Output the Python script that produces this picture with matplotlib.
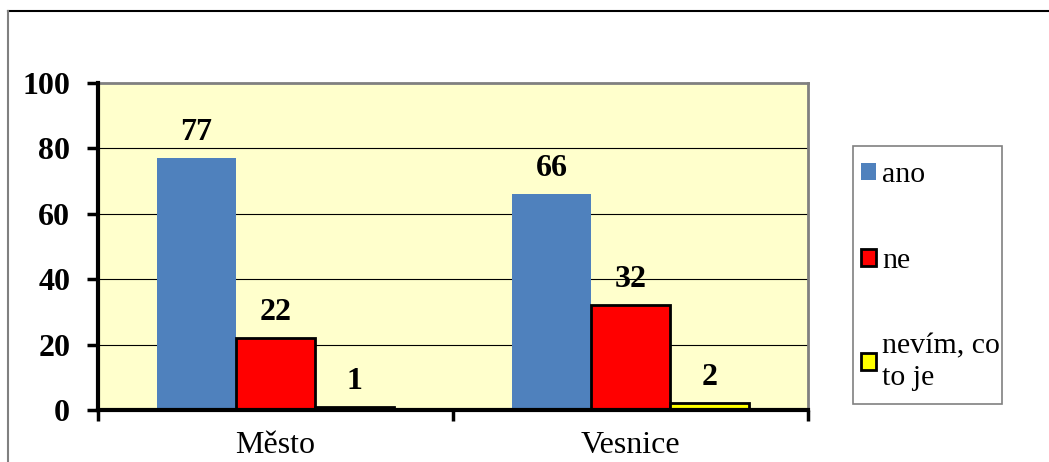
import numpy as np
import matplotlib
matplotlib.use("Agg")
from matplotlib import pyplot as plt
from matplotlib.lines import Line2D
from matplotlib.patches import Rectangle

# data
categories = ["Město", "Vesnice"]
series_names = ["ano", "ne", "nevím, co\nto je"]
ano = [77, 66]
ne = [22, 32]
nevim = [1, 2]
y_ticks = [0, 20, 40, 60, 80, 100]

colors = ["#4F81BD", "#FF0000", "#FFFF00"]
edges = ["none", "black", "black"]

plt.rcParams["font.family"] = ["Liberation Serif", "DejaVu Serif"]

fig = plt.figure(figsize=(10.49, 4.62), dpi=100)
ax = fig.add_axes([98/1049, 1-410/462, 710/1049, 327/462])
ax.set_facecolor("#FFFFCC")

# outer chart border (only top and left visible in the crop)
fig.add_artist(Line2D([8/1049, 1], [1-11/462, 1-11/462], color="black", lw=1.5, transform=fig.transFigure))
fig.add_artist(Line2D([8/1049, 8/1049], [0, 1-11/462], color="#808080", lw=1.5, transform=fig.transFigure))

x = np.arange(len(categories))
w = 2/9
values = [ano, ne, nevim]
for i, (vals, name) in enumerate(zip(values, series_names)):
    bars = ax.bar(x + (i-1)*w, vals, w, color=colors[i], edgecolor=edges[i],
                  linewidth=2 if edges[i] != "none" else 0, label=name, zorder=3)
    ax.bar_label(bars, padding=8, fontsize=23, fontweight="bold")

ax.set_xlim(-0.5, 1.5)
ax.set_ylim(0, 100)

ax.set_yticks(y_ticks)
ax.set_yticklabels([str(t) for t in y_ticks], fontsize=23, fontweight="bold")
ax.tick_params(axis="y", direction="out", length=8, width=2.5, pad=12)

ax.set_xticks([-0.5, 0.5, 1.5])
ax.set_xticklabels([])
ax.set_xticks(x, minor=True)
ax.set_xticklabels(categories, minor=True, fontsize=23)
ax.tick_params(axis="x", which="major", direction="out", length=8, width=2.5)
ax.tick_params(axis="x", which="minor", length=0, pad=15)

for t in [20, 40, 60, 80]:
    ax.axhline(t, color="black", lw=0.8, zorder=1)

ax.spines["left"].set_linewidth(3)
ax.spines["bottom"].set_linewidth(3)
ax.spines["left"].set_zorder(4)
ax.spines["bottom"].set_zorder(4)
ax.spines["top"].set_color("#808080")
ax.spines["right"].set_color("#808080")
ax.spines["top"].set_linewidth(2)
ax.spines["right"].set_linewidth(2)

# legend frame drawn separately so its size matches the reference
fig.add_artist(Rectangle((853/1049, 1-404/462), 149/1049, 258/462, transform=fig.transFigure,
                         facecolor="white", edgecolor="#808080", lw=1.2, zorder=0))
leg = fig.legend(loc="upper left", bbox_to_anchor=(861/1049, 1-162/462),
                 fontsize=21.5, frameon=False,
                 borderpad=0, labelspacing=2.0, handlelength=0.5, handleheight=0.5,
                 handletextpad=0.2, borderaxespad=0)
for t in leg.get_texts():
    t.set_linespacing(1.3)

fig.savefig("out.png", dpi=100)
